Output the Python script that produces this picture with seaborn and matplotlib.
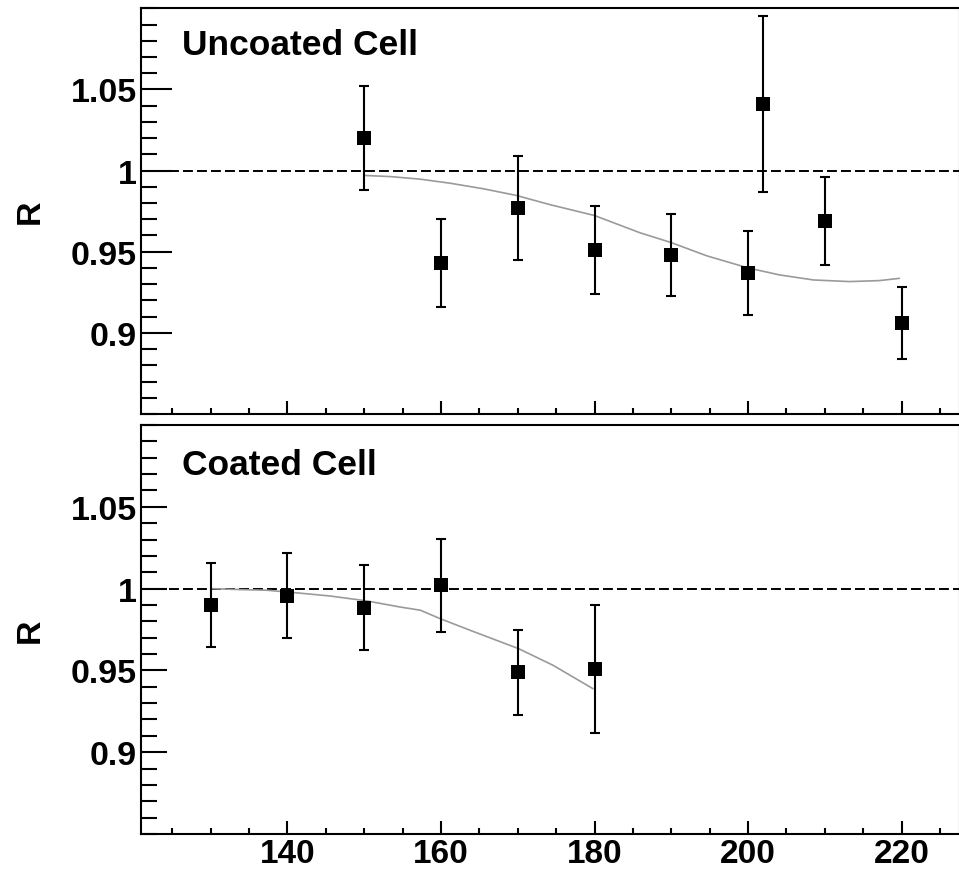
import matplotlib
matplotlib.use("Agg")
import matplotlib.pyplot as plt
import matplotlib.ticker as mticker
import numpy as np
import pandas as pd
import seaborn as sns

# ---- measured ratios (uncoated cell) ----
unc_x = [150, 160, 170, 180, 190, 200, 202, 210, 220]
unc_r = [1.020, 0.943, 0.977, 0.951, 0.948, 0.937, 1.041, 0.969, 0.906]
unc_err = [0.032, 0.027, 0.032, 0.027, 0.025, 0.026, 0.054, 0.027, 0.022]

# fitted curve, uncoated cell
unc_fit_x = [150, 153.4, 157.3, 161.2, 165.5, 169.8, 174.2, 180, 185.9, 190,
             194.6, 200, 204.1, 208.5, 213.2, 217.1, 219.7]
unc_fit_r = [0.9970, 0.9963, 0.9947, 0.9922, 0.9888, 0.9847, 0.9790, 0.9723,
             0.9617, 0.9556, 0.9475, 0.9400, 0.9357, 0.9326, 0.9316, 0.9322, 0.9336]

# ---- measured ratios (coated cell) ----
coat_x = [130, 140, 150, 160, 170, 180]
coat_r = [0.990, 0.9955, 0.9884, 1.002, 0.949, 0.951]
coat_err = [0.0255, 0.026, 0.026, 0.0285, 0.026, 0.039]

# fitted curve, coated cell
coat_fit_x = [130, 133.8, 137.3, 141.2, 145.5, 150.3, 154.6, 157.3, 159.9,
              163.8, 170.1, 174.6, 179.8]
coat_fit_r = [1.000, 0.9994, 0.9990, 0.9974, 0.9955, 0.9925, 0.9888, 0.9868,
              0.9816, 0.9745, 0.9633, 0.9531, 0.9388]

panel_titles = ["Uncoated Cell", "Coated Cell"]
y_major = [0.9, 0.95, 1.0, 1.05]
y_labels = ["0.9", "0.95", "1", "1.05"]
x_major = [140, 160, 180, 200, 220]

sns.set_style("ticks")
plt.rcParams["font.family"] = ["Liberation Sans", "DejaVu Sans"]
plt.rcParams["font.weight"] = "bold"
plt.rcParams["axes.labelweight"] = "bold"
for key in ["text.color", "axes.labelcolor", "xtick.color", "ytick.color",
            "xtick.labelcolor", "ytick.labelcolor", "axes.edgecolor"]:
    plt.rcParams[key] = "black"

fig = plt.figure(figsize=(9.59, 8.70), dpi=100)
W, H = 959, 870
ax_top = fig.add_axes([141 / W, 455 / H, 819 / W, 405.7 / H])
ax_bot = fig.add_axes([141 / W, 35 / H, 819 / W, 409 / H])

panels = [
    (ax_top, unc_x, unc_r, unc_err, unc_fit_x, unc_fit_r, 0.887, 22.3),
    (ax_bot, coat_x, coat_r, coat_err, coat_fit_x, coat_fit_r, 0.880, 19.0),
]

for i, (ax, x, r, err, fx, fr, ty, ymaj_len) in enumerate(panels):
    ax.set_facecolor("white")
    # reference level R = 1
    ax.axhline(1.0, color="black", lw=1.4, dashes=(5.1, 2.1), zorder=1)
    # fitted curve
    fit_df = pd.DataFrame({"E": fx, "R": fr})
    sns.lineplot(data=fit_df, x="E", y="R", ax=ax, color="#9a9a9a", lw=1.2,
                 sort=False, estimator=None, zorder=2)
    # data points with error bars
    ax.errorbar(x, r, yerr=err, fmt="none", ecolor="black", elinewidth=1.5,
                capsize=3.6, capthick=1.5, zorder=3)
    df = pd.DataFrame({"E": x, "R": r})
    sns.scatterplot(data=df, x="E", y="R", ax=ax, marker="s", s=105,
                    color="black", edgecolor="black", linewidth=0, zorder=4)

    ax.set_xlim(120.92, 227.6)
    ax.set_ylim(0.85, 1.10)

    ax.yaxis.set_major_locator(mticker.FixedLocator(y_major))
    ax.yaxis.set_major_formatter(mticker.FixedFormatter(y_labels))
    ax.yaxis.set_minor_locator(mticker.MultipleLocator(0.01))
    ax.xaxis.set_major_locator(mticker.FixedLocator(x_major))
    ax.xaxis.set_minor_locator(mticker.MultipleLocator(5))

    ax.tick_params(axis="y", which="major", direction="in", length=ymaj_len,
                   width=1.5, labelsize=24.5, pad=3, right=False)
    ax.tick_params(axis="y", which="minor", direction="in", length=11.5,
                   width=1.5, right=False)
    ax.tick_params(axis="x", which="major", direction="in", length=9.5,
                   width=1.5, labelsize=24, pad=3, top=False)
    ax.tick_params(axis="x", which="minor", direction="in", length=4.5,
                   width=1.5, top=False)

    for sp in ax.spines.values():
        sp.set_visible(True)
        sp.set_linewidth(1.5)
        sp.set_color("black")

    ax.set_xlabel("")
    ax.set_ylabel("R", fontsize=24.5, fontweight="bold", va="center")
    ax.yaxis.set_label_coords(-0.135, 0.5)
    ax.text(0.0497, ty, panel_titles[i], transform=ax.transAxes,
            fontsize=25.5, fontweight="bold", ha="left", va="baseline")

ax_top.tick_params(axis="x", labelbottom=False)

fig.savefig("out.png", dpi=100, facecolor="white")
